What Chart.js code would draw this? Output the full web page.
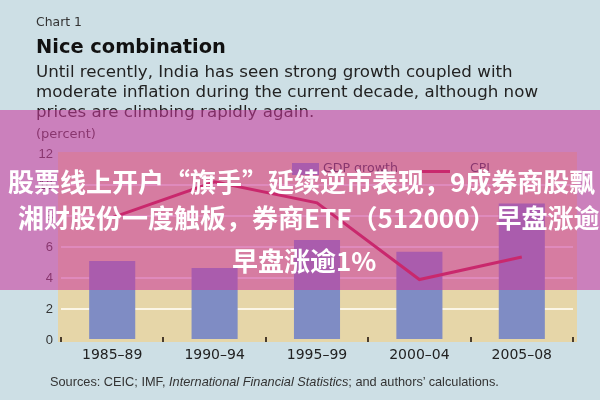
<!DOCTYPE html>
<html><head><meta charset="utf-8">
<script src="https://cdn.jsdelivr.net/npm/chart.js@4.4.0/dist/chart.umd.min.js"></script>
<style>
html,body{margin:0;padding:0;background:#cddfe5;}
#wrap{position:relative;width:600px;height:400px;overflow:hidden;background:#cddfe5;font-family:"DejaVu Sans",sans-serif;color:#222;}
#c{position:absolute;left:0;top:0;}
.t{position:absolute;white-space:nowrap;line-height:1.2;}
#banner{position:absolute;left:0;top:110px;width:600px;height:180px;background:rgba(202,56,156,0.57);}
.bn{position:absolute;white-space:nowrap;color:#fff;font-family:"Noto Sans CJK SC",sans-serif;font-weight:700;font-size:26px;line-height:26px;}
.lg{position:absolute;}
</style></head>
<body><div id="wrap">
<canvas id="c" width="600" height="400"></canvas>
<div class="t fit" data-w="46" data-cy="23" style="left:36px;font-size:12.5px;color:#333">Chart 1</div>
<div class="t fit" data-w="190" data-cy="47" style="left:36px;font-size:19.5px;font-weight:bold;color:#111">Nice combination</div>
<div class="t fit" id="s1" data-w="477" data-cy="72" style="left:36px;font-size:16.5px;color:#222">Until recently, India has seen strong growth coupled with</div>
<div class="t sub" data-cy="92" style="left:36px;font-size:16.5px;color:#222">moderate inflation during the current decade, although now</div>
<div class="t sub" data-cy="112" style="left:36px;font-size:16.5px;color:#222">prices are climbing rapidly again.</div>
<div class="t fit" data-w="60" data-cy="134" style="left:36px;font-size:13px;color:#333">(percent)</div>
<div class="t fit" data-w="449" data-cy="382" style="left:50px;font-size:11px;color:#333;font-family:'Liberation Sans',Arial,sans-serif">Sources: CEIC; IMF, <i>International Financial Statistics</i>; and authors’ calculations.</div>
<div class="lg" style="left:292px;top:163px;width:27px;height:12px;background:#7f8cc4"></div>
<div class="t fit" data-w="75" data-cy="168" style="left:323px;font-size:12.5px;color:#333">GDP growth</div>
<div class="lg" style="left:422px;top:169.5px;width:28px;height:3px;background:#c81430"></div>
<div class="t" data-cy="168" style="left:470px;font-size:12.5px;color:#333;top:160px">CPI</div>
<div id="banner"></div>
<div class="bn" style="left:8px;top:168px">股票线上开户“旗手”延续逆市表现，9成券商股飘</div>
<div class="bn" style="left:18px;top:204px">湘财股份一度触板，券商ETF（512000）早盘涨逾</div>
<div class="bn" style="left:232px;top:247px">早盘涨逾1%</div>
</div>
<script>
const categories = ['1985–89', '1990–94', '1995–99', '2000–04', '2005–08'];
const gdpGrowth = [5.1, 4.65, 6.45, 5.7, 8.8];
const cpi = [7.9, 10.2, 8.85, 3.9, 5.35];
const yTickValues = [0, 2, 4, 6, 8, 10, 12];

// fit header texts to measured widths
let subSize = 16.5;
document.querySelectorAll('.fit').forEach(el => {
  const target = +el.dataset.w;
  const fs = parseFloat(getComputedStyle(el).fontSize);
  const w = el.getBoundingClientRect().width;
  const nf = fs * target / w;
  el.style.fontSize = nf + 'px';
  if (el.id === 's1') subSize = nf;
});
document.querySelectorAll('.sub').forEach(el => { el.style.fontSize = subSize + 'px'; });
document.querySelectorAll('.t').forEach(el => {
  const fs = parseFloat(el.style.fontSize);
  el.style.top = (+el.dataset.cy - 0.62 * fs) + 'px';
});

const plotDeco = {
  id: 'plotDeco',
  beforeDraw(chart) {
    const {ctx, chartArea: a} = chart;
    ctx.save();
    ctx.fillStyle = '#e6d6a8';
    ctx.fillRect(a.left - 3, a.top - 2, a.right - a.left + 7, a.bottom - a.top + 4);
    ctx.restore();
  },
  afterDatasetsDraw(chart) {
    const {ctx, chartArea: a, scales: {x}} = chart;
    const n = categories.length;
    const w = (a.right - a.left) / n;
    ctx.save();
    ctx.fillStyle = '#4a3c2c';
    for (let k = 0; k <= n; k++) {
      const px = Math.round(a.left + k * w);
      ctx.fillRect(px - 1, a.bottom - 3, 2, 5);
    }
    ctx.restore();
  }
};

new Chart(document.getElementById('c'), {
  data: {
    labels: categories,
    datasets: [
      {type: 'line', label: 'CPI', data: cpi, borderColor: '#c81430', borderWidth: 3,
       pointRadius: 0, tension: 0, fill: false, order: 0},
      {type: 'bar', label: 'GDP growth', data: gdpGrowth, backgroundColor: '#7f8cc4',
       barPercentage: 0.45, categoryPercentage: 1, order: 1}
    ]
  },
  options: {
    responsive: false,
    animation: false,
    layout: {padding: {left: 0, right: 27, top: 154, bottom: 0}},
    plugins: {legend: {display: false}, tooltip: {enabled: false}},
    scales: {
      x: {
        offset: true,
        grid: {display: false, drawTicks: false},
        border: {display: false},
        ticks: {color: '#222', font: {family: 'DejaVu Sans', size: 14}, padding: 7, maxRotation: 0},
        afterFit(s) { s.height = 60; }
      },
      y: {
        min: 0, max: 12,
        afterBuildTicks(s) { s.ticks = yTickValues.map(v => ({value: v})); },
        grid: {
          color: c => (c.tick && c.tick.value > 0 && c.tick.value < 12) ? '#fbf6e6' : 'rgba(0,0,0,0)',
          lineWidth: 2, drawTicks: false
        },
        border: {display: false},
        ticks: {color: '#333', font: {family: 'Liberation Sans', size: 13}, padding: 8},
        afterFit(s) { s.width = 61; }
      }
    }
  },
  plugins: [plotDeco]
});
</script>
</body></html>
